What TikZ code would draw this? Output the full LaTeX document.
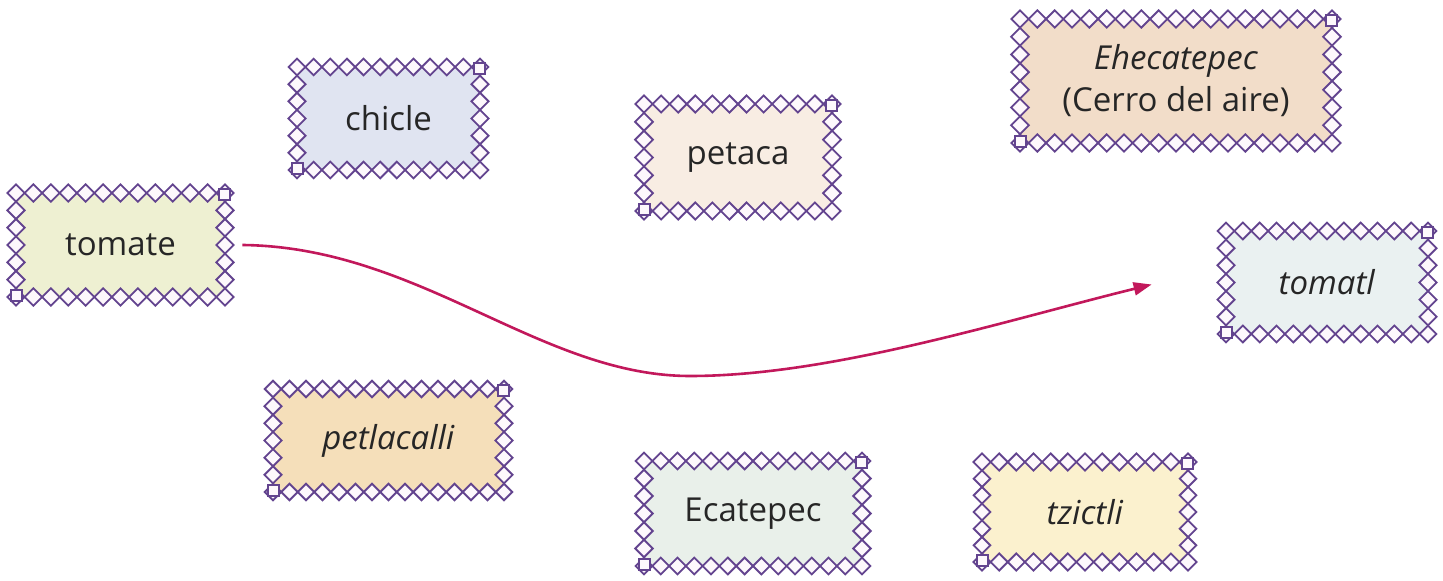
\documentclass[tikz,border=0pt]{standalone}
\usepackage{fontspec}
\setmainfont{Open Sans}
\usetikzlibrary{arrows.meta,calc}
\definecolor{framec}{HTML}{63448F}
\definecolor{arrowc}{HTML}{C2185B}
\definecolor{diafill}{HTML}{FDF8FC}
\definecolor{ctomate}{HTML}{EEF0D2}
\definecolor{cchicle}{HTML}{E0E4F1}
\definecolor{cpetaca}{HTML}{F8EDE3}
\definecolor{cehec}{HTML}{F2DDC9}
\definecolor{ctomatl}{HTML}{EAF1F1}
\definecolor{cpetla}{HTML}{F5DFBA}
\definecolor{cecat}{HTML}{E9F0EA}
\definecolor{ctzic}{HTML}{FBF1CE}
\tikzset{
  wordbox/.style={draw=none, inner sep=0pt, font=\fontsize{16.5}{21}\selectfont, text=black!85, align=center},
  dia/.style={draw=framec, line width=0.9pt, fill=diafill, line join=miter},
  sq/.style={draw=framec, line width=0.8pt, fill=diafill},
  arr/.style={draw=arrowc, line width=1.3pt, -{Triangle[length=9pt,width=6.5pt]}}
}
\newcommand{\dbox}[7]{%
  \pgfmathsetmacro\bw{(#4-#2)*0.5}%
  \pgfmathsetmacro\bh{(#5-#3)*0.5}%
  \node[wordbox, fill=#6, minimum width=\bw pt, minimum height=\bh pt] (#1) at ({(#2+#4)/2},{(#3+#5)/2}) {#7};
  \pgfmathtruncatemacro\nx{round((#4-#2)/17)}%
  \pgfmathtruncatemacro\ny{round((#5-#3)/17)}%
  \pgfmathtruncatemacro\nyy{\ny-1}%
  \pgfmathsetmacro\hx{(#4-#2)/\nx/2}%
  \pgfmathsetmacro\hy{(#5-#3)/\ny/2}%
  \foreach \i in {0,...,\nx}{%
    \pgfmathsetmacro\xx{#2+\i*(#4-#2)/\nx}%
    \draw[dia] (\xx,#3) ++(-\hx,0) -- ++(\hx,-\hx) -- ++(\hx,\hx) -- ++(-\hx,\hx) -- cycle;
    \draw[dia] (\xx,#5) ++(-\hx,0) -- ++(\hx,-\hx) -- ++(\hx,\hx) -- ++(-\hx,\hx) -- cycle;
  }
  \foreach \j in {1,...,\nyy}{%
    \pgfmathsetmacro\yy{#3+\j*(#5-#3)/\ny}%
    \draw[dia] (#2,\yy) ++(-\hy,0) -- ++(\hy,-\hy) -- ++(\hy,\hy) -- ++(-\hy,\hy) -- cycle;
    \draw[dia] (#4,\yy) ++(-\hy,0) -- ++(\hy,-\hy) -- ++(\hy,\hy) -- ++(-\hy,\hy) -- cycle;
  }
  \draw[sq] (#4,#3) ++(-6,-4) rectangle ++(11,11);
  \draw[sq] (#2,#5) ++(-5,-7) rectangle ++(11,11);
}
\begin{document}
\begin{tikzpicture}[x=0.5pt,y=-0.5pt]
\useasboundingbox[fill=white] (0,0) rectangle (1443,581);
\dbox{tomate}{16}{193}{225}{297}{ctomate}{tomate}
\dbox{chicle}{297}{67}{480}{170}{cchicle}{chicle}
\dbox{petaca}{644}{104}{832}{211}{cpetaca}{petaca}
\dbox{ehec}{1020}{19}{1332}{143}{cehec}{\textit{Ehecatepec}\\(Cerro del aire)}
\dbox{tomatl}{1226}{231}{1428}{334}{ctomatl}{\textit{tomatl}}
\dbox{petla}{273}{389}{504}{492}{cpetla}{\textit{petlacalli}}
\dbox{ecat}{644}{461}{862}{566}{cecat}{Ecatepec}
\dbox{tzic}{982}{462}{1188}{562}{ctzic}{\textit{tzictli}}
\coordinate (low) at (690,376);
\draw[arr] ($(tomate.east)+(17,0)$) .. controls (420,247) and (540,376) .. (low)
  .. controls (830,376) and (1000,322) .. ($(tomatl.west)+(-74,2)$);
\end{tikzpicture}
\end{document}
